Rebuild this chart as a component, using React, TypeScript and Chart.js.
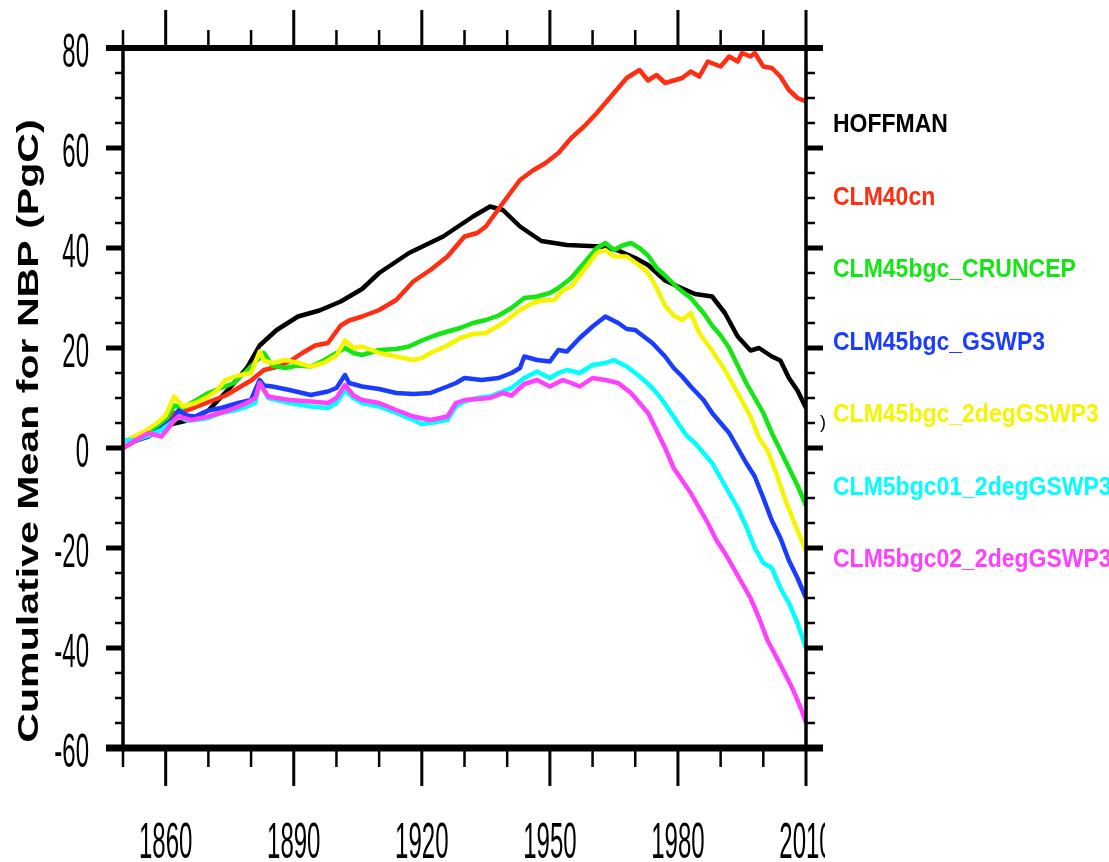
import { useEffect, useRef } from "react";
import { Chart, registerables } from "chart.js";

Chart.register(...registerables);

// Series labels and colours (drawing order: first at the bottom, last on top)
const seriesNames = [
  "HOFFMAN",
  "CLM40cn",
  "CLM45bgc_CRUNCEP",
  "CLM45bgc_GSWP3",
  "CLM45bgc_2degGSWP3",
  "CLM5bgc01_2degGSWP3",
  "CLM5bgc02_2degGSWP3",
];
const seriesColors = ["#000000", "#ff2e12", "#14e614", "#1a3cff", "#f5f500", "#00ffff", "#ff40ff"];

// Cumulative mean NBP (PgC) per series
const hoffmanYears = [1850, 1855, 1860, 1865, 1870, 1875, 1879, 1882, 1886, 1891, 1896, 1901, 1906, 1910, 1917, 1925, 1932, 1936, 1939, 1943, 1948, 1954, 1962, 1966, 1970, 1973, 1977, 1980, 1984, 1988, 1991, 1994, 1997, 1999, 2002, 2004, 2006, 2008, 2010];
const hoffmanValues = [0.5, 2.5, 4.5, 5.5, 7.5, 12, 16, 20.5, 23.6, 26.3, 27.5, 29.3, 31.8, 35, 39, 42.3, 46.3, 48.3, 47.6, 44.3, 41.4, 40.6, 40.3, 39.5, 38, 36.6, 33.5, 32.3, 30.8, 30.3, 27, 22.3, 19.5, 20, 18.3, 17.5, 14, 11.5, 8];

const clm40Years = [1850, 1853, 1856, 1859, 1862, 1865, 1868, 1871, 1874, 1877, 1880, 1883, 1886, 1889, 1892, 1895, 1898, 1901, 1903, 1906, 1910, 1914, 1918, 1922, 1926, 1930, 1933, 1935, 1939, 1943, 1946, 1949, 1952, 1955, 1958, 1961, 1963, 1965, 1968, 1971, 1973, 1975, 1977, 1979, 1981, 1983, 1985, 1987, 1990, 1992, 1994, 1995, 1997, 1998, 2000, 2002, 2004, 2006, 2008, 2010];
const clm40Values = [0, 1.5, 3, 4, 7, 7.5, 8.5, 9.5, 10.5, 12, 13.5, 15.6, 16.2, 17.3, 19, 20.5, 21, 24.5, 25.5, 26.3, 27.6, 29.6, 33.3, 35.6, 38.3, 42.3, 43, 44.3, 49, 53.6, 55.5, 57, 59, 62, 64.3, 67, 69, 71, 74, 75.6, 73.5, 74.6, 73, 73.5, 74, 75.3, 74.3, 77.3, 76.3, 78.3, 77.3, 79, 78.3, 79, 76.3, 76, 74.3, 71.6, 70, 69.3];

const crunYears = [1850, 1852, 1855, 1857, 1860, 1862, 1864, 1867, 1870, 1873, 1876, 1879, 1882, 1883, 1885, 1888, 1891, 1894, 1897, 1900, 1902, 1904, 1906, 1910, 1914, 1917, 1920, 1923, 1926, 1929, 1932, 1935, 1938, 1941, 1944, 1947, 1950, 1952, 1955, 1958, 1961, 1963, 1965, 1967, 1969, 1971, 1973, 1975, 1977, 1980, 1983, 1986, 1988, 1990, 1992, 1994, 1996, 1998, 2000, 2002, 2004, 2006, 2008, 2010];
const crunValues = [1, 2, 3, 3.5, 5.6, 8.5, 8, 9.5, 11, 12, 13, 15.5, 18, 19, 16.5, 16, 16.5, 16.3, 17.5, 19, 20, 19, 18.6, 19.6, 19.8, 20.3, 21.5, 22.5, 23.3, 24, 25, 25.6, 26.5, 28, 30, 30.3, 31, 32, 34, 37, 40, 41, 39.6, 40.5, 41, 40, 38.5, 36, 34.5, 32, 30, 27, 24.5, 22.5, 20, 16.5, 13, 10, 7, 3, -0.5, -4, -7.5, -11.5];

const gswpYears = [1850, 1853, 1856, 1859, 1862, 1863, 1865, 1867, 1870, 1873, 1877, 1880, 1882, 1883, 1885, 1889, 1894, 1898, 1900, 1902, 1903, 1906, 1910, 1914, 1918, 1922, 1926, 1928, 1930, 1934, 1938, 1941, 1943, 1944, 1947, 1950, 1952, 1954, 1957, 1960, 1963, 1966, 1968, 1970, 1972, 1974, 1977, 1979, 1981, 1983, 1986, 1988, 1990, 1992, 1994, 1996, 1998, 2000, 2002, 2004, 2006, 2008, 2010];
const gswpValues = [0.5, 1.5, 2.3, 4, 6, 7.5, 6.5, 6.3, 7.5, 8, 9, 9.6, 13.6, 12.5, 12.3, 11.6, 10.6, 11.3, 12, 14.6, 13, 12.3, 11.8, 11, 10.8, 11, 12.3, 13, 14, 13.6, 14, 15, 16, 18.3, 17.6, 17.3, 19.6, 19.3, 22, 24.3, 26.3, 25, 23.8, 23.6, 22.3, 21, 18.3, 16, 14.3, 12.3, 9.6, 7, 5, 3, 0, -3, -5.7, -10, -14.5, -18, -22.5, -26, -30];

const gswp2Years = [1850, 1852, 1855, 1858, 1860, 1862, 1864, 1867, 1870, 1872, 1874, 1877, 1880, 1882, 1883, 1885, 1888, 1891, 1894, 1897, 1900, 1902, 1904, 1906, 1910, 1914, 1918, 1920, 1922, 1926, 1929, 1932, 1935, 1939, 1943, 1946, 1948, 1951, 1953, 1955, 1958, 1961, 1963, 1965, 1968, 1971, 1973, 1975, 1977, 1979, 1981, 1983, 1985, 1988, 1991, 1994, 1997, 1999, 2001, 2003, 2005, 2007, 2010];
const gswp2Values = [0.5, 2, 3.3, 5, 6.5, 10.3, 8.3, 9, 10.3, 11.5, 13.6, 14.5, 15, 19.3, 17.5, 17, 17.6, 17, 16.3, 17, 18.5, 21.5, 20, 20.3, 19, 18.3, 17.6, 18, 19, 20.5, 22, 22.8, 23, 25, 27.6, 29, 29.5, 29.6, 31.5, 32.3, 35.6, 39, 39.6, 38.3, 38.3, 36.5, 35, 32, 28.5, 26.5, 25.6, 27, 23, 19.5, 15.6, 11, 6.3, 2, -0.5, -5, -10, -14.4, -20.6];

const clm5aYears = [1850, 1853, 1856, 1859, 1862, 1863, 1865, 1867, 1870, 1873, 1876, 1879, 1881, 1882, 1884, 1886, 1889, 1894, 1898, 1900, 1902, 1904, 1906, 1910, 1914, 1918, 1920, 1922, 1926, 1928, 1930, 1933, 1936, 1938, 1941, 1944, 1947, 1950, 1952, 1954, 1957, 1960, 1963, 1965, 1968, 1970, 1972, 1974, 1976, 1978, 1980, 1982, 1984, 1986, 1988, 1990, 1992, 1994, 1996, 1998, 2000, 2002, 2004, 2006, 2008, 2010];
const clm5aValues = [1.5, 1.6, 2.5, 3.6, 5.5, 6.3, 5.5, 5.6, 6, 7, 7.5, 8.3, 9, 13, 10, 9.6, 9, 8.3, 8, 9, 11.6, 10, 9, 8.3, 7, 5.6, 4.8, 5, 5.6, 8.3, 9.3, 10, 10.3, 11, 12, 14, 15.3, 14, 15, 15.6, 15, 16.6, 17, 17.6, 16.3, 15, 13.6, 12, 10, 7.5, 5, 2.5, 1, -1, -3, -6, -9, -12, -15.7, -20, -23, -24, -28, -31, -35, -40];

const clm5bYears = [1850, 1853, 1856, 1859, 1862, 1863, 1866, 1870, 1875, 1879, 1881, 1882, 1884, 1886, 1889, 1894, 1898, 1900, 1902, 1904, 1906, 1910, 1914, 1918, 1922, 1926, 1928, 1930, 1933, 1936, 1939, 1941, 1944, 1947, 1950, 1953, 1955, 1957, 1960, 1963, 1966, 1969, 1971, 1973, 1975, 1977, 1979, 1981, 1983, 1985, 1987, 1989, 1991, 1993, 1995, 1997, 1999, 2001, 2003, 2005, 2007, 2009, 2010];
const clm5bValues = [0, 1.6, 3, 2.3, 5.5, 6.3, 5.6, 6.3, 7.6, 9, 10, 13, 10.3, 10, 9.6, 9.3, 9, 10, 12.6, 10.5, 9.6, 9, 7.6, 6.3, 5.6, 6.3, 9, 9.6, 9.8, 10, 11, 10.5, 12.8, 13.6, 12.3, 13.6, 13, 12.3, 14, 13.6, 13, 11, 9, 7, 3.5, 0, -4, -6.5, -9, -12, -15, -18.4, -21, -24, -27, -30, -34, -38.5, -41.7, -45, -48.4, -52.5, -55];

const seriesYears = [hoffmanYears, clm40Years, crunYears, gswpYears, gswp2Years, clm5aYears, clm5bYears];
const seriesValues = [hoffmanValues, clm40Values, crunValues, gswpValues, gswp2Values, clm5aValues, clm5bValues];

// Axis ranges and labels
const xMin = 1850;
const xMax = 2010;
const yMin = -60;
const yMax = 80;
const yTickValues = [80, 60, 40, 20, 0, -20, -40, -60];
const xTickYears = [1860, 1890, 1920, 1950, 1980, 2010];
const yTitle = "Cumulative Mean for NBP (PgC)";

const FONT = "'Liberation Sans', Arial, Helvetica, sans-serif";

const framePlugin = {
  id: "nclFrame",
  afterDatasetsDraw(chart: any) {
    const { ctx, chartArea: a, scales } = chart;
    const xs = scales.x;
    const ys = scales.y;
    ctx.save();
    ctx.strokeStyle = "#000";
    ctx.lineCap = "butt";
    const line = (x1: number, y1: number, x2: number, y2: number, w: number) => {
      ctx.lineWidth = w;
      ctx.beginPath();
      ctx.moveTo(x1, y1);
      ctx.lineTo(x2, y2);
      ctx.stroke();
    };

    // side borders
    line(a.left, a.top, a.left, a.bottom, 3.5);
    line(a.right, a.top, a.right, a.bottom, 3.5);

    // value ticks, both sides
    for (let v = yMin; v <= yMax; v += 5) {
      const y = ys.getPixelForValue(v);
      const major = v % 20 === 0;
      line(a.left - (major ? 17 : 8), y, a.left, y, major ? 5 : 2.5);
      line(a.right, y, a.right + (major ? 17 : 9), y, major ? 5 : 2.5);
    }

    // year ticks, top and bottom
    for (let yr = xMin; yr <= xMax; yr += 10) {
      const x = xs.getPixelForValue(yr);
      const major = (yr - 1860) % 30 === 0;
      line(x, a.top, x, a.top - (major ? 38 : 18), major ? 3 : 2.5);
      line(x, a.bottom, x, a.bottom + (major ? 38 : 19), major ? 3 : 2.5);
    }

    // heavy top and bottom rules
    line(a.left - 17, a.top, a.right + 17, a.top, 6);
    line(a.left - 17, a.bottom, a.right + 17, a.bottom, 7);

    // value labels (tall, narrow digits)
    ctx.fillStyle = "#000";
    ctx.font = `24px ${FONT}`;
    ctx.textBaseline = "alphabetic";
    ctx.textAlign = "right";
    yTickValues.forEach((v) => {
      const y = ys.getPixelForValue(v) + 1.5;
      ctx.save();
      ctx.translate(a.left - 34, y);
      ctx.scale(1, 2.03);
      ctx.fillText(String(v), 0, 0.358 * 24);
      ctx.restore();
    });

    // year labels, cut at the right
    ctx.save();
    ctx.beginPath();
    ctx.rect(0, 0, 825, chart.height);
    ctx.clip();
    ctx.textAlign = "center";
    xTickYears.forEach((yr) => {
      const x = xs.getPixelForValue(yr);
      ctx.save();
      ctx.translate(x, 840);
      ctx.scale(1, 2.1);
      ctx.fillText(String(yr), 0, 0.358 * 24);
      ctx.restore();
    });
    ctx.restore();

    // axis title
    ctx.save();
    ctx.font = `bold 30px ${FONT}`;
    ctx.textAlign = "center";
    ctx.translate(38, 431);
    ctx.rotate(-Math.PI / 2);
    ctx.scale(1.37, 1);
    ctx.fillText(yTitle, 0, 0);
    ctx.restore();

    // series labels on the right
    ctx.font = `bold 23px ${FONT}`;
    ctx.textAlign = "left";
    seriesNames.forEach((name, i) => {
      const base = 132 + i * 72.5;
      ctx.save();
      ctx.fillStyle = seriesColors[i];
      ctx.translate(833, base);
      ctx.scale(1, 1.1);
      ctx.fillText(name, 0, 0);
      ctx.restore();
    });

    ctx.font = `18px ${FONT}`;
    ctx.fillStyle = "#000";
    ctx.fillText(")", 820, 428);

    ctx.restore();
  },
};

export default function App() {
  const canvasRef = useRef<HTMLCanvasElement | null>(null);

  useEffect(() => {
    const canvas = canvasRef.current;
    if (!canvas) return;
    const datasets = seriesNames.map((name, i) => ({
      label: name,
      data: seriesYears[i].map((yr, j) => ({ x: yr, y: seriesValues[i][j] })),
      borderColor: seriesColors[i],
      backgroundColor: seriesColors[i],
      borderWidth: 4.5,
      borderJoinStyle: "round" as const,
      pointRadius: 0,
      tension: 0,
      fill: false,
      order: seriesNames.length - i,
    }));
    const chart = new Chart(canvas, {
      type: "line",
      data: { datasets },
      options: {
        animation: false,
        responsive: false,
        devicePixelRatio: 1,
        parsing: false,
        layout: { padding: { left: 123, top: 48, right: 303, bottom: 114 } },
        scales: {
          x: { type: "linear", min: xMin, max: xMax, display: false },
          y: { type: "linear", min: yMin, max: yMax, display: false },
        },
        plugins: { legend: { display: false }, tooltip: { enabled: false } },
      },
      plugins: [framePlugin],
    });
    return () => chart.destroy();
  }, []);

  return (
    <div style={{ position: "absolute", left: 0, top: 0, width: 1109, height: 862, background: "#fff" }}>
      <canvas ref={canvasRef} width={1109} height={862} style={{ width: 1109, height: 862, display: "block" }} />
    </div>
  );
}
